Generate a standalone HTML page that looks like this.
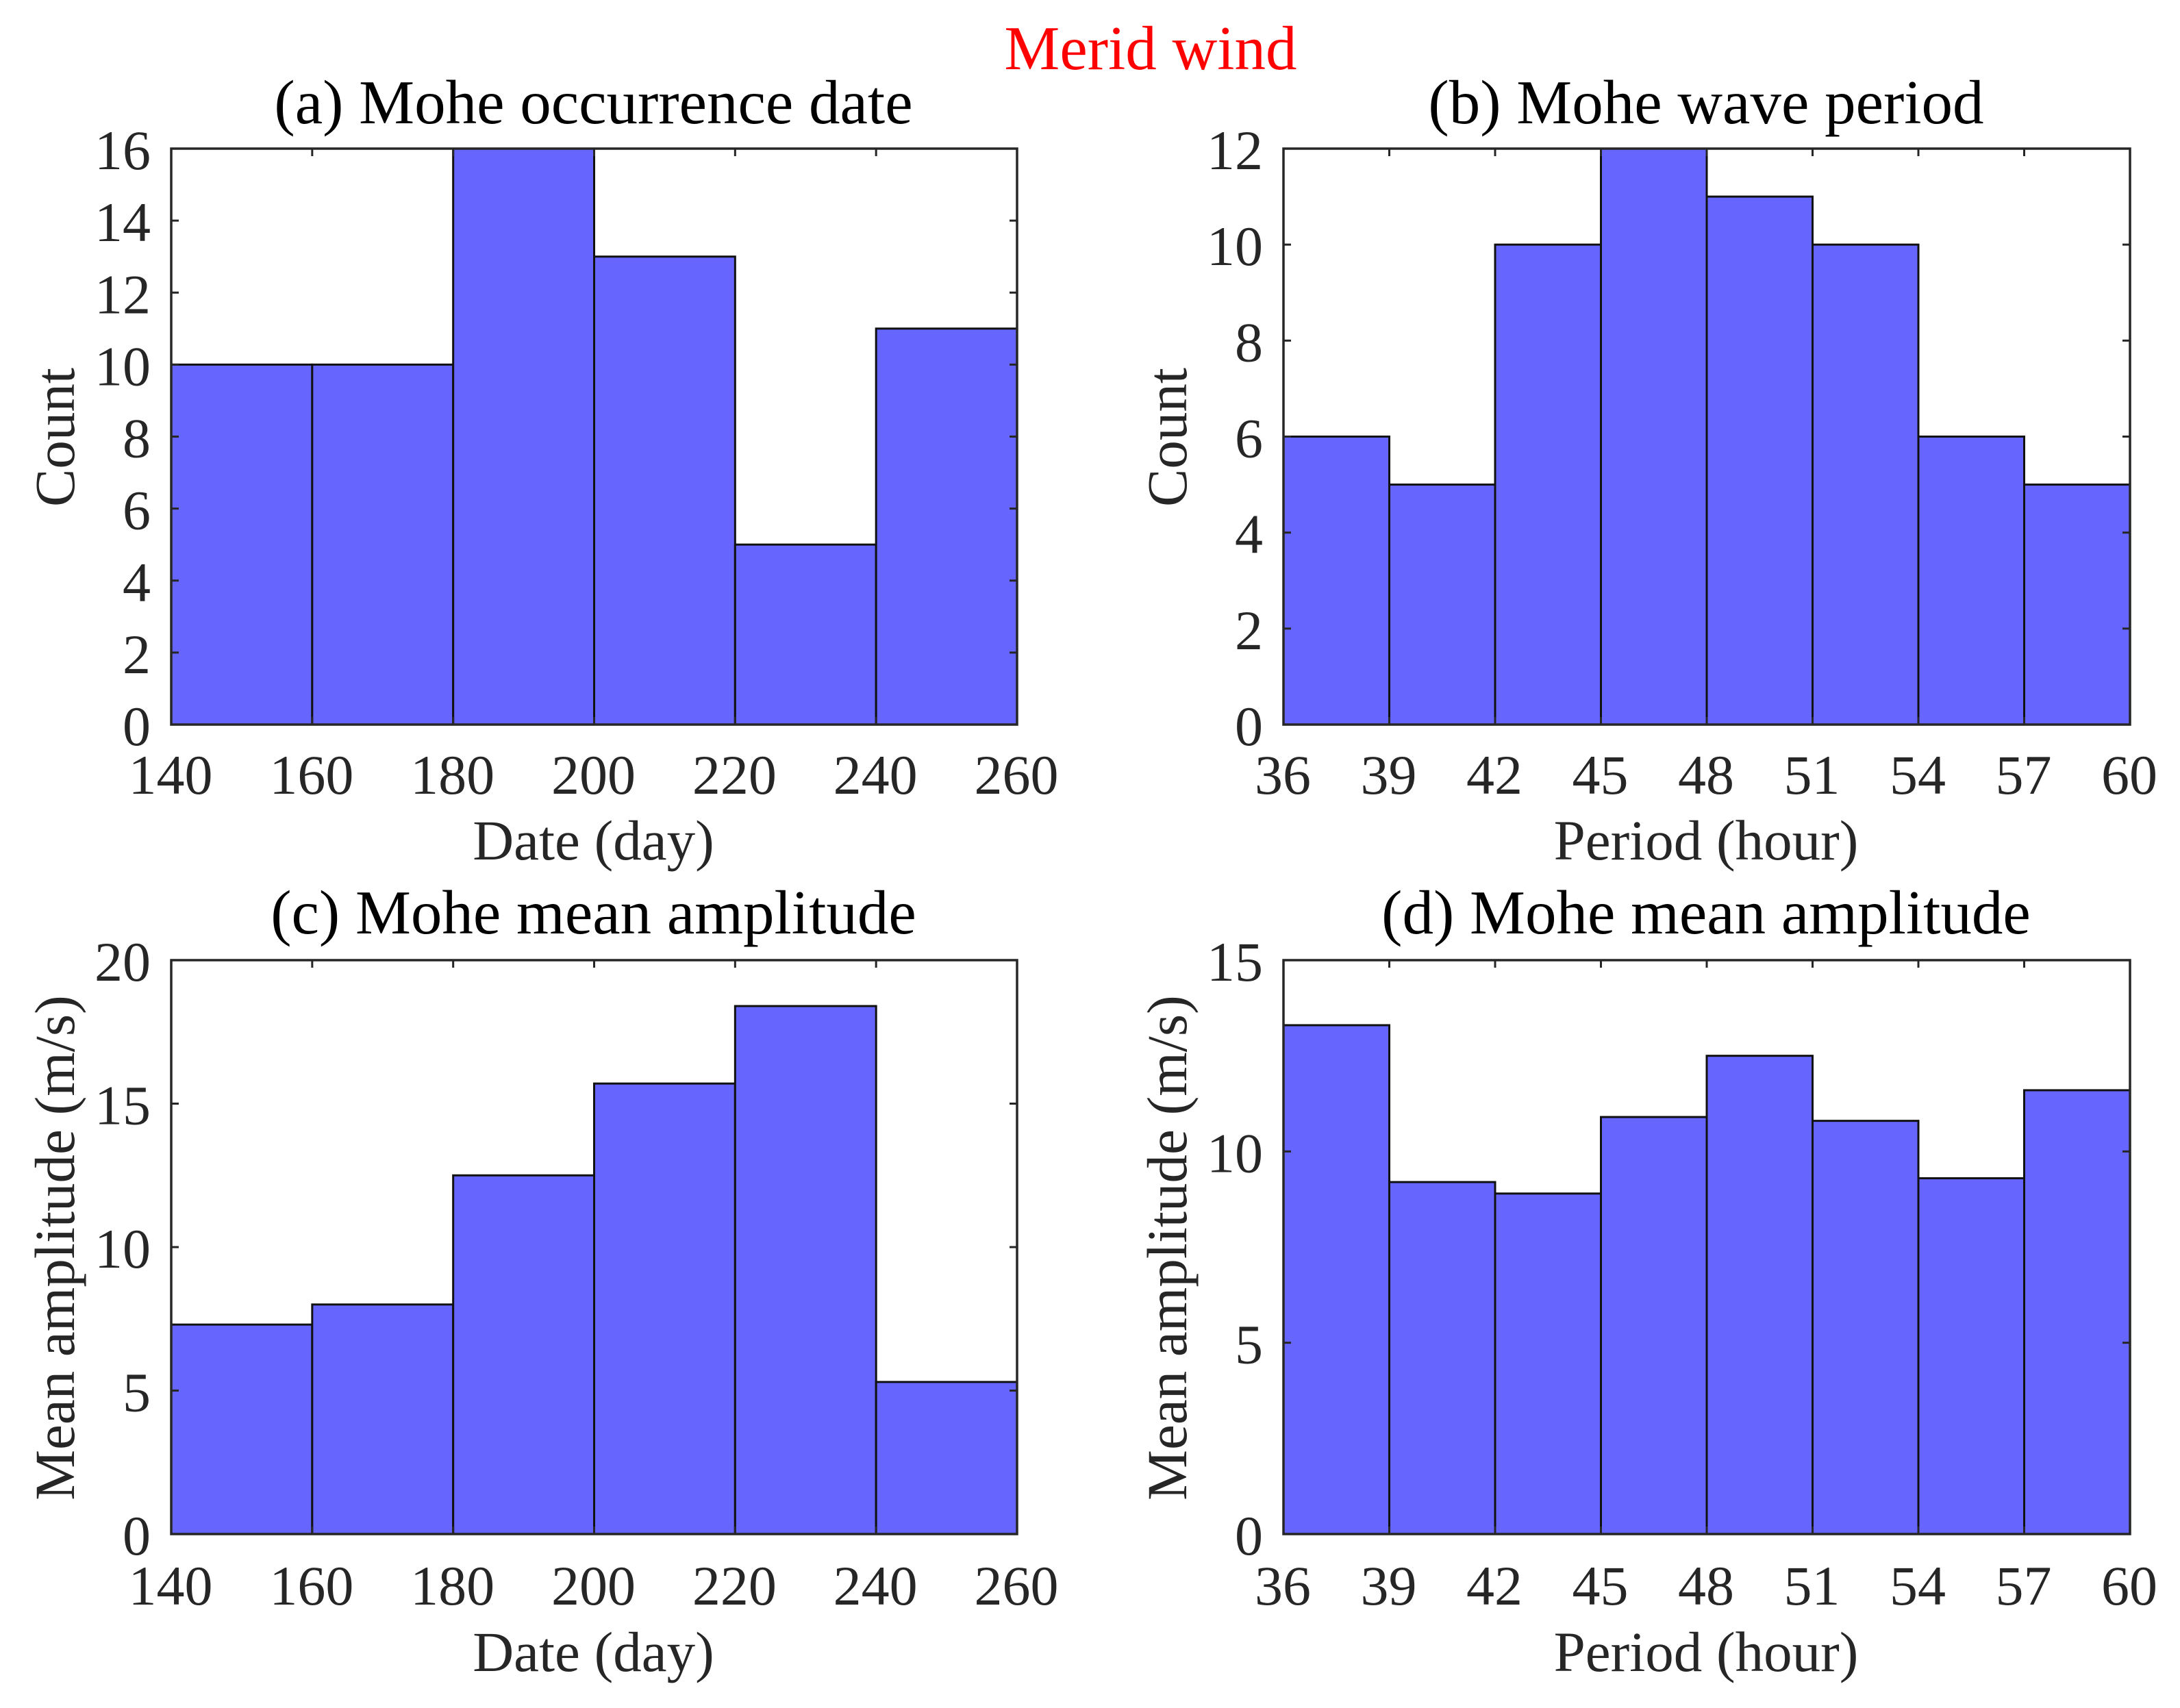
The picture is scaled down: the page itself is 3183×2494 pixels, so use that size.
<!DOCTYPE html>
<html lang="en">
<head>
<meta charset="utf-8">
<title>Merid wind</title>
<style>
html,body{margin:0;padding:0;background:#fff;}
svg{display:block;}
text{font-family:"Liberation Serif","Times New Roman",serif;}
</style>
</head>
<body>
<svg id="fig" xmlns="http://www.w3.org/2000/svg" width="3183" height="2494" viewBox="0 0 3183 2494">
<rect width="3183" height="2494" fill="#fff"/>
<text x="1680" y="101" font-size="91" fill="#ff0000" text-anchor="middle">Merid wind</text>
</svg>
<script>
var dateEdges = [140, 160, 180, 200, 220, 240, 260];
var periodEdges = [36, 39, 42, 45, 48, 51, 54, 57, 60];
var occurrenceCounts = [10, 10, 16, 13, 5, 11];
var periodCounts = [6, 5, 10, 12, 11, 10, 6, 5];
var dateAmplitudes = [7.3, 8.0, 12.5, 15.7, 18.4, 5.3];
var periodAmplitudes = [13.3, 9.2, 8.9, 10.9, 12.5, 10.8, 9.3, 11.6];
var countTicksA = [0, 2, 4, 6, 8, 10, 12, 14, 16];
var countTicksB = [0, 2, 4, 6, 8, 10, 12];
var amplitudeTicksC = [0, 5, 10, 15, 20];
var amplitudeTicksD = [0, 5, 10, 15];

var NS = 'http://www.w3.org/2000/svg';
var fig = document.getElementById('fig');
var TICK_COLOR = '#262626';

function make(parent, tag, attrs, txt) {
  var el = document.createElementNS(NS, tag);
  for (var k in attrs) el.setAttribute(k, attrs[k]);
  if (txt !== undefined) el.textContent = txt;
  parent.appendChild(el);
  return el;
}

function drawPanel(id, box, edges, values, yTicks, title, xLabel, yLabel, off) {
  var xMin = edges[0], xMax = edges[edges.length - 1];
  var yMin = yTicks[0], yMax = yTicks[yTicks.length - 1];
  function sx(v) { return box.x0 + (v - xMin) / (xMax - xMin) * (box.x1 - box.x0); }
  function sy(v) { return box.y1 - (v - yMin) / (yMax - yMin) * (box.y1 - box.y0); }

  var g = make(fig, 'g', {});
  
  

  values.forEach(function (v, i) {
    var bar = make(g, 'rect', {
      x: sx(edges[i]), y: sy(v),
      width: sx(edges[i + 1]) - sx(edges[i]),
      height: box.y1 - sy(v),
      fill: '#6666ff', stroke: '#111', 'stroke-width': 3
    });
    
    
  });

  var TL = 11;
  edges.forEach(function (v) {
    var x = sx(v);
    var t1 = make(g, 'line', {x1: x, x2: x, y1: box.y1, y2: box.y1 - TL, stroke: TICK_COLOR, 'stroke-width': 3});
    
    
    var t2 = make(g, 'line', {x1: x, x2: x, y1: box.y0, y2: box.y0 + TL, stroke: TICK_COLOR, 'stroke-width': 3});
    
    
    var lab = make(g, 'text', {x: x - 1, y: box.y1 + off.tick, 'font-size': 82, fill: TICK_COLOR, 'text-anchor': 'middle'}, String(v));
    
    
  });

  yTicks.forEach(function (v) {
    var y = sy(v);
    var t1 = make(g, 'line', {x1: box.x0, x2: box.x0 + TL, y1: y, y2: y, stroke: TICK_COLOR, 'stroke-width': 3});
    
    
    var t2 = make(g, 'line', {x1: box.x1, x2: box.x1 - TL, y1: y, y2: y, stroke: TICK_COLOR, 'stroke-width': 3});
    
    
    var lab = make(g, 'text', {x: box.x0 - 30, y: y + 30, 'font-size': 82, fill: TICK_COLOR, 'text-anchor': 'end'}, String(v));
    
    
  });

  var frame = make(g, 'rect', {
    x: box.x0, y: box.y0, width: box.x1 - box.x0, height: box.y1 - box.y0,
    fill: 'none', stroke: TICK_COLOR, 'stroke-width': 3.5
  });
  
  

  var cx = (box.x0 + box.x1) / 2, cy = (box.y0 + box.y1) / 2;
  var tEl = make(g, 'text', {x: cx - 1, y: box.y0 - off.title, 'font-size': 91, fill: '#000', 'text-anchor': 'middle'}, title);
  
  
  var xl = make(g, 'text', {x: cx - 1, y: box.y1 + off.label, 'font-size': 83, fill: TICK_COLOR, 'text-anchor': 'middle'}, xLabel);
  
  
  var lx = box.x0 - 142;
  var ly = cy + 1;
  var yl = make(g, 'text', {x: lx, y: ly, 'font-size': 83, fill: TICK_COLOR, 'text-anchor': 'middle',
    transform: 'rotate(-90 ' + lx + ' ' + ly + ')'}, yLabel);
  
  
}

var colL = {x0: 250, x1: 1485}, colR = {x0: 1874, x1: 3110};
var rowT = {y0: 217, y1: 1058}, rowB = {y0: 1402, y1: 2240};
var offT = {tick: 101, label: 197, title: 37};
var offB = {tick: 103, label: 200, title: 39};

drawPanel('panel-a-occurrence-date', {x0: colL.x0, x1: colL.x1, y0: rowT.y0, y1: rowT.y1},
  dateEdges, occurrenceCounts, countTicksA, '(a) Mohe occurrence date', 'Date (day)', 'Count', offT);
drawPanel('panel-b-wave-period', {x0: colR.x0, x1: colR.x1, y0: rowT.y0, y1: rowT.y1},
  periodEdges, periodCounts, countTicksB, '(b) Mohe wave period', 'Period (hour)', 'Count', offT);
drawPanel('panel-c-mean-amplitude-date', {x0: colL.x0, x1: colL.x1, y0: rowB.y0, y1: rowB.y1},
  dateEdges, dateAmplitudes, amplitudeTicksC, '(c) Mohe mean amplitude', 'Date (day)', 'Mean amplitude (m/s)', offB);
drawPanel('panel-d-mean-amplitude-period', {x0: colR.x0, x1: colR.x1, y0: rowB.y0, y1: rowB.y1},
  periodEdges, periodAmplitudes, amplitudeTicksD, '(d) Mohe mean amplitude', 'Period (hour)', 'Mean amplitude (m/s)', offB);
</script>
</body>
</html>
